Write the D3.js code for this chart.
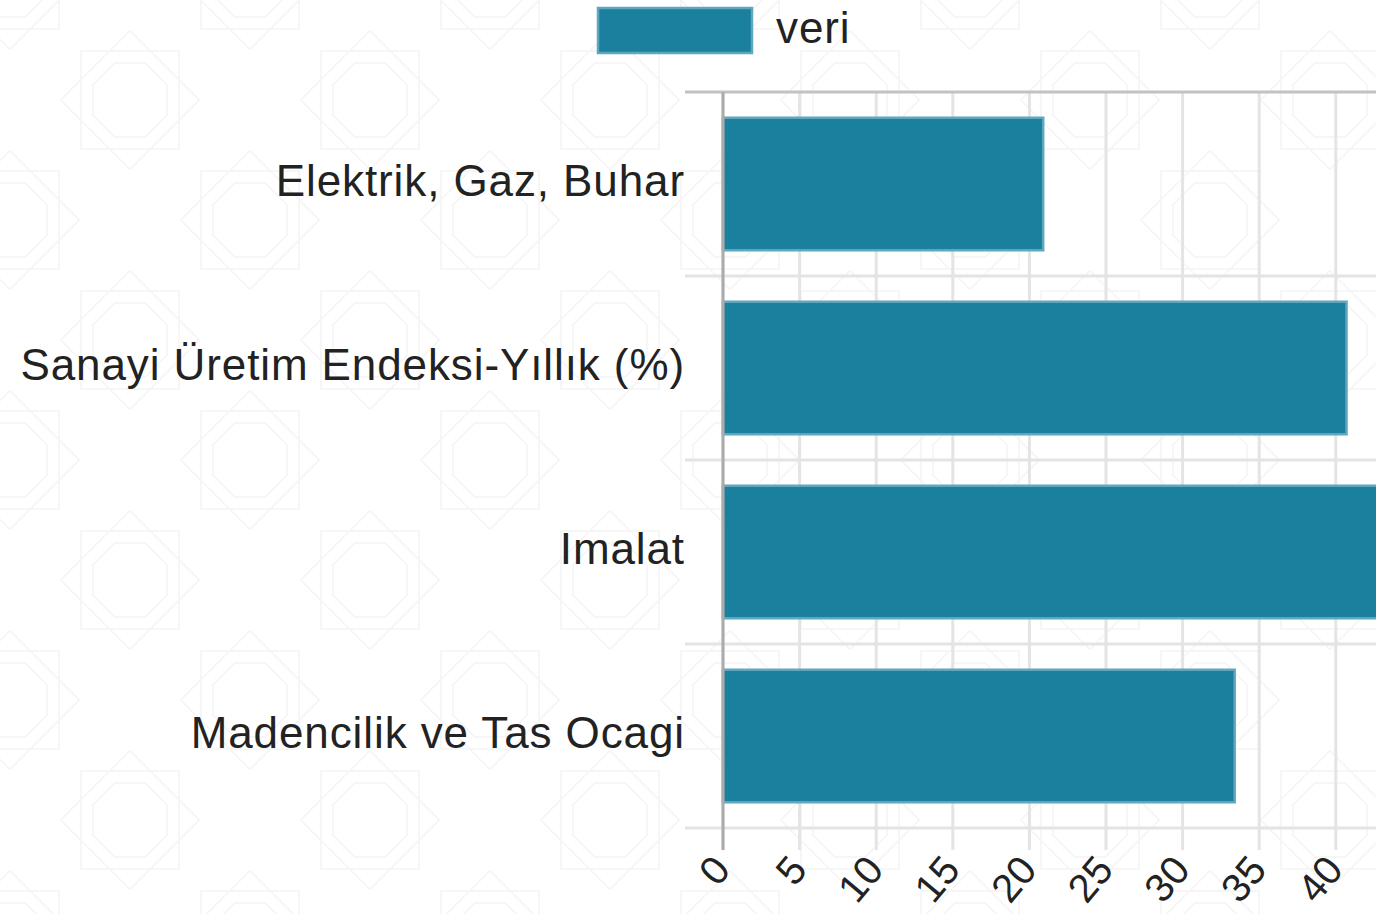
<!DOCTYPE html>
<html>
<head>
<meta charset="utf-8">
<script src="https://cdn.jsdelivr.net/npm/d3@7"></script>
<style>
  html, body { margin: 0; padding: 0; background: #fff; overflow: hidden; }
  svg { display: block; font-family: "Liberation Sans", Arial, sans-serif; }
</style>
</head>
<body>
<svg id="chart" width="1376" height="914"></svg>
<script>
// chart data
const categories = ["Elektrik, Gaz, Buhar", "Sanayi Üretim Endeksi-Yıllık (%)", "Imalat", "Madencilik ve Tas Ocagi"];
const values = [20.9, 40.7, 44.5, 33.4];
const seriesName = "veri";
const xTicks = [0, 5, 10, 15, 20, 25, 30, 35, 40];

const svg = d3.select("#chart");
const W = 1376, H = 914;
const margin = { top: 92, left: 723, bottom: 86 };

// faint background ornament
const defs = svg.append("defs");
const tile = 240;
const pat = defs.append("pattern")
    .attr("id", "bgPattern")
    .attr("patternUnits", "userSpaceOnUse")
    .attr("width", tile).attr("height", tile)
    .attr("x", 10).attr("y", -20);
const pg = pat.append("g").attr("fill", "none").attr("stroke", "#f4f4f4").attr("stroke-width", 1.5);
[[0, 0], [tile, 0], [0, tile], [tile, tile], [tile / 2, tile / 2]].forEach(([cx, cy]) => {
    const r = 70;
    pg.append("rect").attr("x", cx - r * 0.7).attr("y", cy - r * 0.7)
        .attr("width", r * 1.4).attr("height", r * 1.4);
    pg.append("rect").attr("x", cx - r * 0.7).attr("y", cy - r * 0.7)
        .attr("width", r * 1.4).attr("height", r * 1.4)
        .attr("transform", `rotate(45,${cx},${cy})`);
    const oct = d3.range(8).map(i => {
        const a = Math.PI / 8 + i * Math.PI / 4;
        return [cx + 40 * Math.cos(a), cy + 40 * Math.sin(a)];
    });
    pg.append("polygon").attr("points", oct.map(p => p.join(",")).join(" "));
});
svg.append("rect").attr("width", W).attr("height", H).attr("fill", "url(#bgPattern)");

// scales
const step = 76.6;
const x = d3.scaleLinear()
    .domain([0, 45])
    .range([margin.left, margin.left + step * 9]);

const y = d3.scaleBand()
    .domain(categories)
    .range([margin.top, H - margin.bottom])
    .paddingInner(0.28)
    .paddingOuter(0.14);

const bandEdges = categories.map(c => y(c) - y.step() * 0.14).concat([H - margin.bottom]);
const gridColor = "#e4e4e4";

// vertical grid lines
svg.append("g")
  .selectAll("line")
  .data(x.ticks(9))
  .join("line")
    .attr("x1", d => x(d)).attr("x2", d => x(d))
    .attr("y1", margin.top).attr("y2", H - margin.bottom + 22)
    .attr("stroke", gridColor)
    .attr("stroke-width", 3);

// horizontal grid lines (band boundaries)
svg.append("g")
  .selectAll("line")
  .data(bandEdges)
  .join("line")
    .attr("x1", margin.left - 38).attr("x2", W)
    .attr("y1", d => d).attr("y2", d => d)
    .attr("stroke", (d, i) => i === 0 ? "#c2c2c2" : gridColor)
    .attr("stroke-width", 3);

// bars
svg.append("g")
  .selectAll("rect")
  .data(categories)
  .join("rect")
    .attr("x", x(0))
    .attr("y", d => y(d))
    .attr("width", (d, i) => x(values[i]) - x(0))
    .attr("height", y.bandwidth())
    .attr("fill", "#1b7f9e")
    .attr("stroke", "#5ea7be")
    .attr("stroke-width", 2.5);

// y axis line
svg.append("line")
    .attr("x1", x(0)).attr("x2", x(0))
    .attr("y1", margin.top).attr("y2", H - margin.bottom + 22)
    .attr("stroke", "#ababab")
    .attr("stroke-width", 3);

// category labels
svg.append("g")
  .selectAll("text")
  .data(categories)
  .join("text")
    .attr("x", margin.left - 38)
    .attr("y", d => y(d) + y.bandwidth() / 2)
    .attr("dy", "0.27em")
    .attr("text-anchor", "end")
    .attr("font-size", 44)
    .attr("letter-spacing", 0.9)
    .attr("fill", "#222")
    .text(d => d);

// x tick labels, rotated
svg.append("g")
  .selectAll("text")
  .data(xTicks)
  .join("text")
    .attr("transform", d => `translate(${x(d) + 1},${H - margin.bottom + 36}) rotate(-50)`)
    .attr("text-anchor", "end")
    .attr("dominant-baseline", "middle")
    .attr("font-size", 40)
    .attr("fill", "#222")
    .text(d => d);

// legend
const legend = svg.append("g");
legend.append("rect")
    .attr("x", 598).attr("y", 8)
    .attr("width", 154).attr("height", 45)
    .attr("fill", "#1b7f9e")
    .attr("stroke", "#5ea7be")
    .attr("stroke-width", 2.5);
legend.append("text")
    .attr("x", 776).attr("y", 43)
    .attr("font-size", 44)
    .attr("letter-spacing", 0.9)
    .attr("fill", "#222")
    .text(seriesName);
</script>
</body>
</html>
